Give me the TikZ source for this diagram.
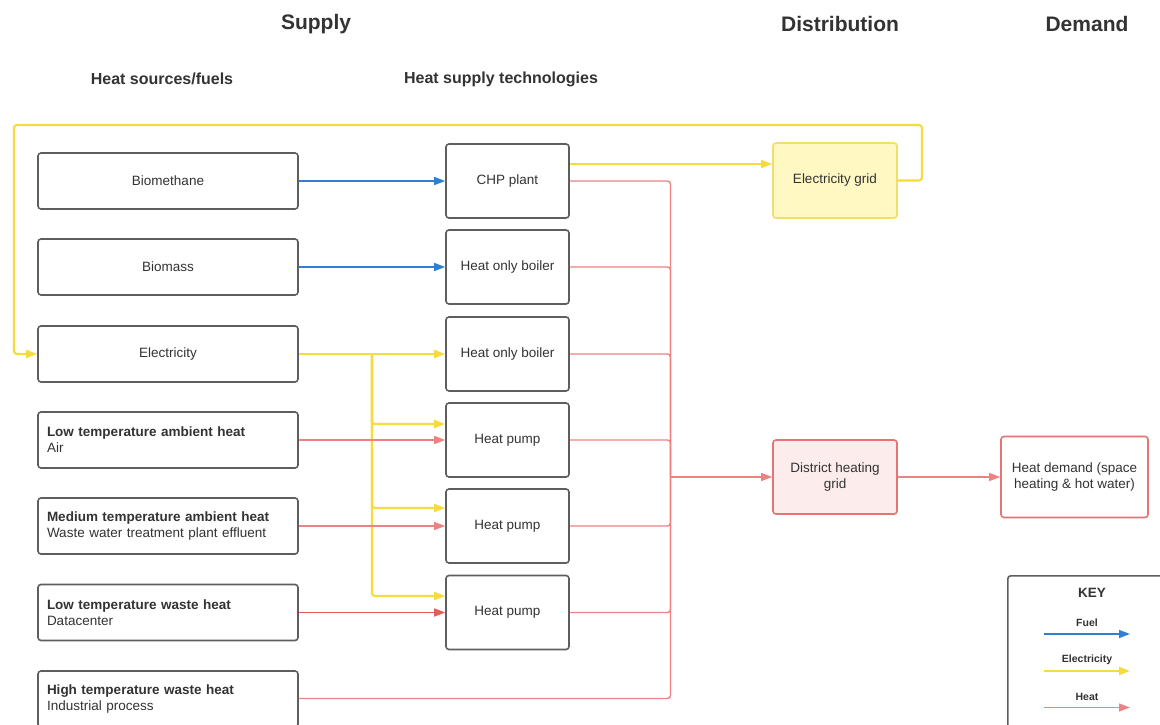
\documentclass[tikz,border=0pt]{standalone}
\usepackage{fontspec}
\setmainfont{Liberation Sans}
\usetikzlibrary{arrows.meta,calc}
\definecolor{fuelc}{HTML}{2F7FD3}
\definecolor{elecc}{HTML}{F5DB3E}
\definecolor{heatc}{HTML}{EE8282}
\definecolor{heatd}{HTML}{E65A5A}
\definecolor{boxc}{HTML}{5E5E5E}
\definecolor{txtc}{HTML}{333333}
\definecolor{egfill}{HTML}{FFF8C2}
\definecolor{egdraw}{HTML}{F1DF6A}
\definecolor{dhfill}{HTML}{FDECEC}
\definecolor{dhdraw}{HTML}{E67474}
\begin{document}
\begin{tikzpicture}[x=1pt,y=-1pt,
  bodyfont/.style={font=\fontsize{13.5}{16}\selectfont},
  srcbox/.style={draw=boxc, line width=1.6pt, rounded corners=3pt, fill=white,
    minimum width=260pt, minimum height=56pt, text=txtc, bodyfont, inner sep=0pt},
  srcl/.style={srcbox, text width=242pt, align=left},
  techbox/.style={draw=boxc, line width=1.6pt, rounded corners=3pt, fill=white,
    minimum width=123pt, minimum height=74pt, text=txtc, bodyfont, align=center, inner sep=0pt},
  egbox/.style={techbox, draw=egdraw, fill=egfill, minimum width=124pt, minimum height=75pt},
  dhbox/.style={techbox, draw=dhdraw, fill=dhfill, minimum width=124pt, minimum height=74pt},
  hdbox/.style={techbox, draw=dhdraw, fill=white, minimum width=147pt, minimum height=81pt},
  hdr/.style={text=txtc, font=\fontsize{21}{24}\bfseries\selectfont},
  subhdr/.style={text=txtc, font=\fontsize{16}{18}\bfseries\selectfont},
  tip/.style={-{Triangle[length=11pt,width=8pt]}},
  fuel/.style={draw=fuelc, line width=1.4pt},
  el/.style={draw=elecc, line width=2.2pt},
  heat/.style={draw=heatc, line width=1.4pt},
  heatdk/.style={draw=heatd, line width=1.6pt},
  keylbl/.style={text=txtc, font=\fontsize{10.5}{12}\bfseries\selectfont},
]
\clip (0,0) rectangle (1160,725);
\fill[white] (0,0) rectangle (1160,725);

% headers
\node[hdr] (hsupply) at (316,24) {Supply};
\node[hdr] (hdist) at (840,24) {Distribution};
\node[hdr] (hdem) at (1087,24) {Demand};
\node[subhdr] (hsrc) at (162,79) {Heat sources/fuels};
\node[subhdr] (htech) at (501,79) {Heat supply technologies};

% sources
\node[srcbox] (bm) at (168,181) {Biomethane};
\node[srcbox] (bio) at (168,267) {Biomass};
\node[srcbox] (elec) at (168,354) {Electricity};
\node[srcl] (amb) at (168,440) {\textbf{Low temperature ambient heat}\\Air};
\node[srcl] (med) at (168,526) {\textbf{Medium temperature ambient heat}\\Waste water treatment plant effluent};
\node[srcl] (dc) at (168,612.5) {\textbf{Low temperature waste heat}\\Datacenter};
\node[srcl] (ind) at (168,699) {\textbf{High temperature waste heat}\\Industrial process};

% technologies
\node[techbox] (chp) at (507.5,181) {CHP plant};
\node[techbox] (hob1) at (507.5,267) {Heat only boiler};
\node[techbox] (hob2) at (507.5,354) {Heat only boiler};
\node[techbox] (hp1) at (507.5,440) {Heat pump};
\node[techbox] (hp2) at (507.5,526) {Heat pump};
\node[techbox] (hp3) at (507.5,612.5) {Heat pump};

% distribution & demand
\node[egbox] (eg) at (835,180.5) {Electricity grid};
\node[dhbox] (dh) at (835,477) {District heating\\grid};
\node[hdbox] (hd) at (1074.5,477) {Heat demand (space\\heating \& hot water)};

% junction coordinates
\coordinate (busj) at (670.5,477);
\coordinate (ej) at (372,354);

% fuel connectors
\draw[fuel,tip] (bm.east) -- (chp.west);
\draw[fuel,tip] (bio.east) -- (hob1.west);

% electricity connectors
\draw[el,tip] (elec.east) -- (hob2.west);
\draw[el,tip,rounded corners=3pt] (ej) |- ([yshift=16pt]hp1.west);
\draw[el,tip,rounded corners=3pt] (ej) |- ([yshift=18pt]hp2.west);
\draw[el,tip,rounded corners=3pt] (ej) |- ([yshift=16.5pt]hp3.west);
\draw[el,tip] ([yshift=17pt]chp.east) -- ([yshift=16.5pt]eg.west);
\draw[el,tip,rounded corners=3pt] (eg.east) -- (922,180.5) -- (922,125) -- (14,125) -- (14,354) -- (elec.west);

% heat connectors
\draw[heat,tip] (amb.east) -- (hp1.west);
\draw[heat,tip] (med.east) -- (hp2.west);
\draw[heatdk,tip] (dc.east) -- (hp3.west);
\draw[heat,rounded corners=3pt] (chp.east) -| (busj);
\draw[heat,rounded corners=3pt] (hob1.east) -| (busj);
\draw[heat,rounded corners=3pt] (hob2.east) -| (busj);
\draw[heat,rounded corners=3pt] (hp1.east) -| (busj);
\draw[heat,rounded corners=3pt] (hp2.east) -| (busj);
\draw[heat,rounded corners=3pt] (hp3.east) -| (busj);
\draw[heat,rounded corners=3pt] ([yshift=0.5pt]ind.east) -| (busj);
\draw[heat,tip] (busj) -- (dh.west);
\draw[heat,tip] (dh.east) -- (hd.west);

% key
\node[draw=boxc, line width=1.6pt, rounded corners=3pt, fill=white,
  minimum width=180pt, minimum height=170pt, anchor=north west] (key) at (1007,575) {};
\node[text=txtc, font=\fontsize{13.5}{16}\bfseries\selectfont] (keyt) at (1092,593) {KEY};
\node[keylbl] (kfuel) at (1087,623) {Fuel};
\node[keylbl] (kelec) at (1087,660) {Electricity};
\node[keylbl] (kheat) at (1087,697) {Heat};
\coordinate (kf1) at (1044,634); \coordinate (kf2) at (1130,634);
\coordinate (ke1) at (1044,671); \coordinate (ke2) at (1130,671);
\coordinate (kh1) at (1044,707.5); \coordinate (kh2) at (1130,707.5);
\draw[fuel,tip] (kf1) -- (kf2);
\draw[el,tip] (ke1) -- (ke2);
\draw[heat,tip] (kh1) -- (kh2);
\end{tikzpicture}
\end{document}
